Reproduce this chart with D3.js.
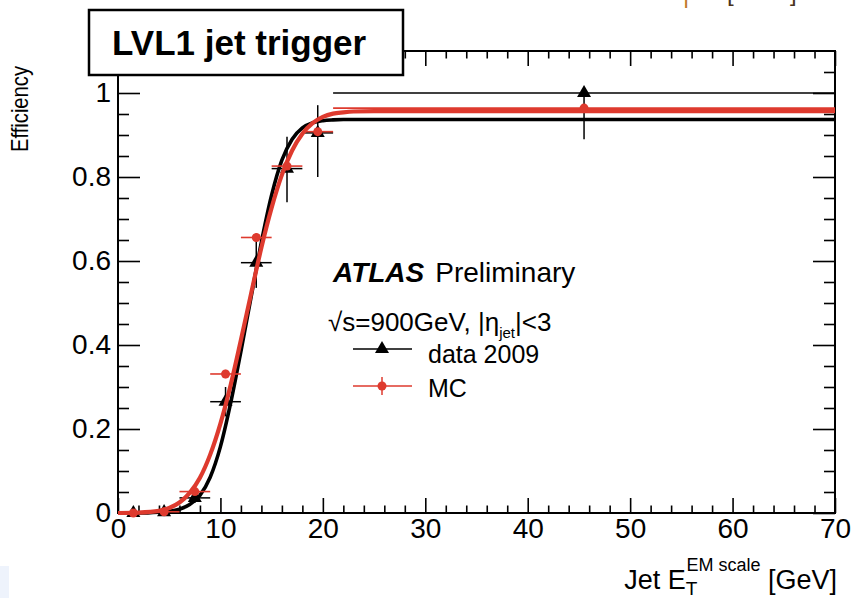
<!DOCTYPE html>
<html>
<head>
<meta charset="utf-8">
<script src="https://cdn.jsdelivr.net/npm/d3@7"></script>
<style>
  html, body { margin: 0; padding: 0; background: #fff; }
  svg { display: block; font-family: "Liberation Sans", Arial, Helvetica, sans-serif; }
</style>
</head>
<body>
<svg id="chart" width="854" height="598"></svg>
<script>
// ---- Binned trigger efficiency vs jet ET (GeV) ----
const binCenters    = [1.5, 4.5, 7.5, 10.5, 13.5, 16.5, 19.5, 45.5];
const binHalfWidths = [1.5, 1.5, 1.5, 1.5, 1.5, 1.5, 1.5, 24.5];

// data 2009
const dataEff     = [0.000, 0.002, 0.036, 0.265, 0.596, 0.820, 0.905, 1.000];
const dataErrLow  = [0.000, 0.002, 0.012, 0.035, 0.060, 0.080, 0.105, 0.110];
const dataErrHigh = [0.004, 0.004, 0.015, 0.035, 0.060, 0.076, 0.066, 0.000];

// MC
const mcEff = [0.000, 0.003, 0.051, 0.331, 0.656, 0.826, 0.908, 0.964];
const mcErr = [0.001, 0.002, 0.006, 0.010, 0.010, 0.008, 0.006, 0.004];

// fitted turn-on curves
const fitX    = [0, 2, 4, 5, 6, 7, 8, 9, 10, 11, 12, 13, 14, 15, 16, 17, 18, 19, 20, 21, 22, 23, 25, 70];
const dataFit = [0, 0, 0.002, 0.004, 0.009, 0.020, 0.042, 0.085, 0.158, 0.262, 0.385, 0.515, 0.645, 0.757,
                 0.840, 0.890, 0.917, 0.929, 0.934, 0.936, 0.937, 0.937, 0.937, 0.937];
const mcFit   = [0, 0.001, 0.005, 0.012, 0.025, 0.048, 0.084, 0.139, 0.213, 0.305, 0.412, 0.523, 0.632, 0.727,
                 0.805, 0.863, 0.903, 0.928, 0.943, 0.951, 0.954, 0.956, 0.957, 0.957];

// axis ticks
const xTicks = [0, 10, 20, 30, 40, 50, 60, 70];
const yTicks = [0, 0.2, 0.4, 0.6, 0.8, 1];
const xMinor = d3.range(0, 71, 2).filter(v => v % 10 !== 0);
const yMinor = d3.range(0, 22).map(i => i * 0.05).filter(v => Math.abs(v / 0.2 - Math.round(v / 0.2)) > 1e-6);

const RED = "#de3a2e";
const BLACK = "#000";

const svg = d3.select("#chart");
const frameL = 118, frameR = 835, frameT = 51, frameB = 513;
const x = d3.scaleLinear().domain([0, 70]).range([frameL, frameR]);
const y = d3.scaleLinear().domain([0, 1.1]).range([frameB, frameT]);

// faint corner shading
svg.append("rect").attr("x", 0).attr("y", 566).attr("width", 9).attr("height", 32).attr("fill", "#eef3fc");

// ---- axes (ticks point into the frame on all four sides) ----
function styleAxis(g) {
  g.select(".domain").remove();
  g.selectAll(".tick line").attr("stroke", "#000").attr("stroke-width", 1.6);
  g.selectAll("text").attr("fill", "#000").attr("font-size", 28)
    .attr("font-family", "'Liberation Sans', Arial, Helvetica, sans-serif");
}
const yFmt = d => (d === 0 ? "0" : d === 1 ? "1" : d3.format(".1f")(d));

svg.append("g").attr("transform", `translate(0,${frameB})`)
  .call(d3.axisBottom(x).tickValues(xTicks).tickSize(-15).tickSizeOuter(0).tickPadding(5).tickFormat(d3.format("d")))
  .call(styleAxis);
svg.append("g").attr("transform", `translate(0,${frameB})`)
  .call(d3.axisBottom(x).tickValues(xMinor).tickSize(-7.5).tickSizeOuter(0).tickFormat(""))
  .call(styleAxis);
svg.append("g").attr("transform", `translate(0,${frameT})`)
  .call(d3.axisTop(x).tickValues(xTicks).tickSize(-15).tickSizeOuter(0).tickFormat(""))
  .call(styleAxis);
svg.append("g").attr("transform", `translate(0,${frameT})`)
  .call(d3.axisTop(x).tickValues(xMinor).tickSize(-7.5).tickSizeOuter(0).tickFormat(""))
  .call(styleAxis);

svg.append("g").attr("transform", `translate(${frameL},0)`)
  .call(d3.axisLeft(y).tickValues(yTicks).tickSize(-22).tickSizeOuter(0).tickPadding(7).tickFormat(yFmt))
  .call(styleAxis);
svg.append("g").attr("transform", `translate(${frameL},0)`)
  .call(d3.axisLeft(y).tickValues(yMinor).tickSize(-11).tickSizeOuter(0).tickFormat(""))
  .call(styleAxis);
svg.append("g").attr("transform", `translate(${frameR},0)`)
  .call(d3.axisRight(y).tickValues(yTicks).tickSize(-22).tickSizeOuter(0).tickFormat(""))
  .call(styleAxis);
svg.append("g").attr("transform", `translate(${frameR},0)`)
  .call(d3.axisRight(y).tickValues(yMinor).tickSize(-11).tickSizeOuter(0).tickFormat(""))
  .call(styleAxis);

// frame
svg.append("rect").attr("x", frameL).attr("y", frameT).attr("width", frameR - frameL).attr("height", frameB - frameT)
  .attr("fill", "none").attr("stroke", "#000").attr("stroke-width", 2);

// axis titles
const xt = svg.append("text").attr("x", 837).attr("y", 589).attr("text-anchor", "end")
  .attr("font-size", 27).attr("fill", "#000");
xt.append("tspan").text("Jet E");
xt.append("tspan").attr("font-size", 19).attr("dy", 6).text("T");
xt.append("tspan").attr("font-size", 18).attr("dx", -11).attr("dy", -24).text("EM scale");
xt.append("tspan").attr("font-size", 27).attr("dy", 18).text(" [GeV]");

svg.append("text").attr("transform", "translate(28,66) rotate(-90)").attr("text-anchor", "end")
  .attr("font-size", 24).attr("textLength", 86).attr("lengthAdjust", "spacingAndGlyphs")
  .attr("fill", "#000").text("Efficiency");

// ---- curves and points ----
const plot = svg.append("g");
const fitLine = d3.line().x(d => x(d[0])).y(d => y(d[1])).curve(d3.curveMonotoneX);

plot.append("path").datum(fitX.map((v, i) => [v, dataFit[i]])).attr("d", fitLine)
  .attr("fill", "none").attr("stroke", BLACK).attr("stroke-width", 3.6);

const dataPts = binCenters.map((c, i) => ({ c, hw: binHalfWidths[i], v: dataEff[i], lo: dataErrLow[i], hi: dataErrHigh[i] }));
const mcPts = binCenters.map((c, i) => ({ c, hw: binHalfWidths[i], v: mcEff[i], lo: mcErr[i], hi: mcErr[i] }));

function drawErrors(g, pts, color, w) {
  g.selectAll(null).data(pts).enter().append("line")
    .attr("x1", d => x(d.c - d.hw)).attr("x2", d => x(d.c + d.hw))
    .attr("y1", d => y(d.v)).attr("y2", d => y(d.v))
    .attr("stroke", color).attr("stroke-width", w);
  g.selectAll(null).data(pts).enter().append("line")
    .attr("x1", d => x(d.c)).attr("x2", d => x(d.c))
    .attr("y1", d => y(d.v - d.lo)).attr("y2", d => y(d.v + d.hi))
    .attr("stroke", color).attr("stroke-width", w);
}

const gData = plot.append("g");
drawErrors(gData, dataPts, BLACK, 1.5);
const tri = d3.symbol().type(d3.symbolTriangle).size(85);
gData.selectAll(null).data(dataPts).enter().append("path")
  .attr("d", tri).attr("transform", d => `translate(${x(d.c)},${y(d.v)})`).attr("fill", BLACK);

plot.append("path").datum(fitX.map((v, i) => [v, mcFit[i]])).attr("d", fitLine)
  .attr("fill", "none").attr("stroke", RED).attr("stroke-width", 4.2);

const gMC = plot.append("g");
drawErrors(gMC, mcPts, RED, 1.6);
gMC.selectAll(null).data(mcPts).enter().append("circle")
  .attr("cx", d => x(d.c)).attr("cy", d => y(d.v)).attr("r", 4.5).attr("fill", RED);

// ---- legend / labels ----
const atlas = svg.append("text").attr("x", 333).attr("y", 282).attr("font-size", 28).attr("fill", "#000");
atlas.append("tspan").attr("font-weight", "bold").attr("font-style", "italic").text("ATLAS");
atlas.append("tspan").attr("dx", 11).text("Preliminary");

const cond = svg.append("text").attr("x", 328).attr("y", 331).attr("font-size", 26).attr("fill", "#000");
cond.append("tspan").text("\u221As=900GeV, |\u03B7");
cond.append("tspan").attr("font-size", 15).attr("dy", 7).text("jet");
cond.append("tspan").attr("dy", -7).text("|<3");

svg.append("line").attr("x1", 353).attr("x2", 412).attr("y1", 349).attr("y2", 349)
  .attr("stroke", BLACK).attr("stroke-width", 1.5);
svg.append("path").attr("d", tri).attr("transform", "translate(382,349)").attr("fill", BLACK);
svg.append("text").attr("x", 428).attr("y", 363).attr("font-size", 25).attr("fill", "#000").text("data 2009");

svg.append("line").attr("x1", 353).attr("x2", 412).attr("y1", 386).attr("y2", 386)
  .attr("stroke", RED).attr("stroke-width", 1.5);
svg.append("line").attr("x1", 382).attr("x2", 382).attr("y1", 377).attr("y2", 395)
  .attr("stroke", RED).attr("stroke-width", 1.5);
svg.append("circle").attr("cx", 382).attr("cy", 386).attr("r", 4.5).attr("fill", RED);
svg.append("text").attr("x", 428).attr("y", 397).attr("font-size", 25).attr("fill", "#000").text("MC");

// title box
svg.append("rect").attr("x", 89).attr("y", 10).attr("width", 314).attr("height", 65)
  .attr("fill", "#fff").attr("stroke", "#000").attr("stroke-width", 2.5);
svg.append("text").attr("x", 112).attr("y", 55).attr("font-size", 35).attr("font-weight", "bold")
  .attr("fill", "#000").text("LVL1 jet trigger");

// clipped glyphs along the top edge
const frag = svg.append("g").attr("font-size", 24).attr("fill", "#4a3320");
frag.append("text").attr("x", 683).attr("y", 3).attr("fill", "#c07a2a").text("|");
frag.append("text").attr("x", 727).attr("y", 1).text("[");
frag.append("text").attr("x", 790).attr("y", 1).text("]");
</script>
</body>
</html>
